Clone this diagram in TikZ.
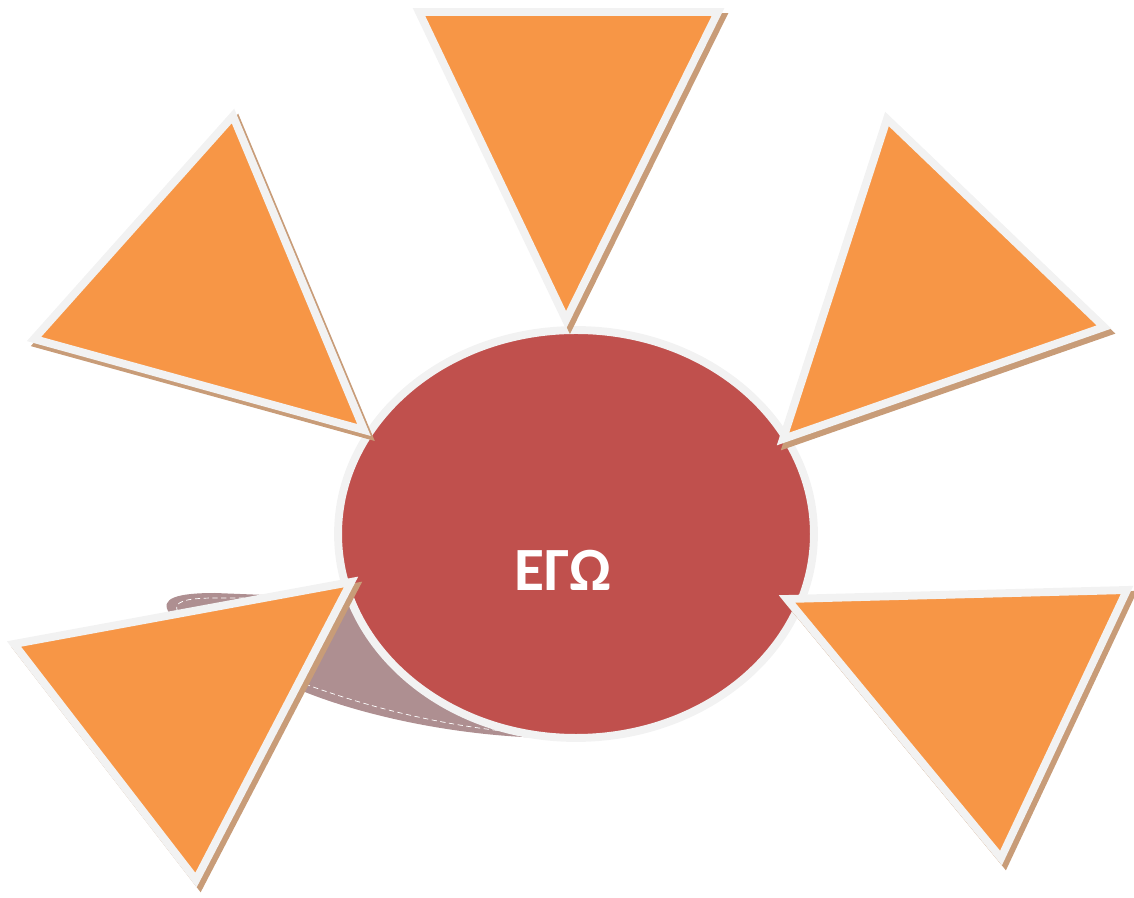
\documentclass[tikz,border=0pt]{standalone}
\usepackage{fontspec}
\usepackage{tikz}
\usetikzlibrary{shapes.geometric}
\newfontfamily\egofont{Carlito}
\definecolor{petalorange}{HTML}{F79646}
\definecolor{egored}{HTML}{C0504D}
\definecolor{rimgray}{HTML}{F2F2F2}
\definecolor{petalshade}{HTML}{C89C78}
\definecolor{ribbon}{HTML}{AE8F91}

\tikzset{
  petal/.style={fill=petalorange, draw=rimgray, line width=4.5pt, line join=miter},
  petalshadow/.style={fill=petalshade, draw=petalshade, line width=4.5pt, line join=miter},
}

\begin{document}
\begin{tikzpicture}[x=0.02cm, y=-0.02cm]
\useasboundingbox (0,0) rectangle (1134,898);
% ribbon behind the ellipse
\fill [ribbon] (170,614) .. controls (158,598) and (178,593) .. (215,593)
  -- (340,598) -- (470,690) -- (560,738)
  .. controls (460,738) and (360,715) .. (300,690) -- (190,640)
  .. controls (178,632) and (172,622) .. (170,614);
\draw [white, densely dashed, line width=0.4pt] (178,612) .. controls (172,602) and (185,598) .. (215,598) -- (250,598);
\draw [white, densely dashed, line width=0.4pt] (305,684) .. controls (370,708) and (450,728) .. (535,734);
% centre
\node [ellipse, draw=rimgray, fill=egored, line width=4.5pt, inner sep=0pt,
       minimum width=9.52cm, minimum height=8.16cm] (ego) at (576,534) {};
\node [text=white, font=\egofont\bfseries\fontsize{35}{40}\selectfont] (egolabel) at (563,570) {ΕΓΩ};
% shadows of the petals
\begin{scope}[shift={(4,5)}]
\draw [petalshadow] (419,12) -- (718,12) -- (566,320) -- cycle;
\draw [petalshadow] (233,116) -- (34,339) -- (364,430) -- cycle;
\draw [petalshadow] (887,119) -- (1104,327) -- (783,439) -- cycle;
\draw [petalshadow] (351,582) -- (14,644) -- (196,880) -- cycle;
\draw [petalshadow] (787,599) -- (1127,590) -- (1001,858) -- cycle;
\end{scope}
% petals
\draw [petal] (419,12) -- (718,12) -- (566,320) -- cycle;
\draw [petal] (233,116) -- (34,339) -- (364,430) -- cycle;
\draw [petal] (887,119) -- (1104,327) -- (783,439) -- cycle;
\draw [petal] (351,582) -- (14,644) -- (196,880) -- cycle;
\draw [petal] (787,599) -- (1127,590) -- (1001,858) -- cycle;
\end{tikzpicture}
\end{document}
